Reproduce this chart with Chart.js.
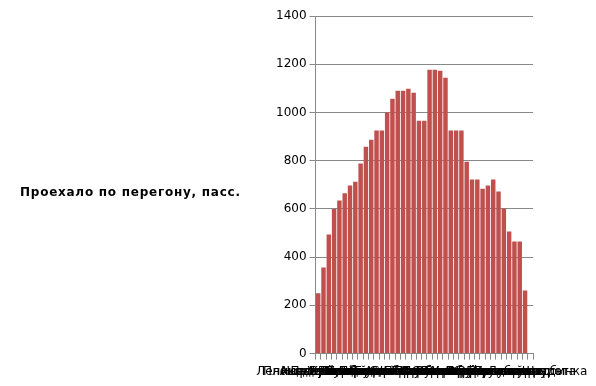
<!DOCTYPE html>
<html>
<head>
<meta charset="utf-8">
<script src="https://cdn.jsdelivr.net/npm/chart.js@4/dist/chart.umd.min.js"></script>
<style>
  html, body { margin: 0; padding: 0; background: #fff; }
  #wrap { position: relative; width: 596px; height: 386px; }
  #ytitle {
    position: absolute; left: 20px; top: 185px;
    font-family: 'DejaVu Sans', sans-serif; font-weight: bold; font-size: 12px;
    letter-spacing: 0.75px; color: #000; white-space: nowrap;
  }
</style>
</head>
<body>
<div id="wrap">
  <canvas id="c" width="596" height="386"></canvas>
  <div id="ytitle">Проехало по перегону, пасс.</div>
</div>
<script>
// Stop names (illegible in the reference; overlapping labels)
const stops = [
  "Ленинская слобода", "Площадь Гагарина", "Академическая", "Профсоюзная",
  "Новые Черёмушки", "Калужская", "Беляево", "Коньково", "Тёплый Стан",
  "Ясенево", "Новоясеневская", "Битцевский парк", "Лесопарковая",
  "Улица Старокачаловская", "Улица Скобелевская", "Бульвар Адмирала Ушакова",
  "Улица Горчакова", "Бунинская аллея", "Потапово", "Коммунарка",
  "Столбово", "Ольховая", "Прокшино", "Филатов луг", "Саларьево",
  "Румянцево", "Тропарёво", "Юго-Западная", "Проспект Вернадского",
  "Университет", "Воробьёвы горы", "Спортивная", "Фрунзенская",
  "Парк культуры", "Кропоткинская", "Боровицкая",
  "Охотный ряд", "Лубянка", "Чистые пруды", "Красные ворота",
  "Бутово-Щербинка"
];
// Passengers carried on each segment (last stop has no outgoing segment)
const passengers = [
  250, 357, 494, 600, 635, 665, 697, 713, 788, 858,
  887, 925, 925, 1000, 1057, 1090, 1090, 1098, 1082, 966,
  966, 1177, 1177, 1173, 1144, 925, 925, 925, 796, 722,
  722, 684, 697, 722, 672, 602, 506, 465, 465, 262,
  null
];
const yTicks = [0, 200, 400, 600, 800, 1000, 1200, 1400];

Chart.defaults.font.family = "'DejaVu Sans', sans-serif";
Chart.defaults.font.size = 12;
Chart.defaults.color = '#000';

new Chart(document.getElementById('c'), {
  type: 'bar',
  data: {
    labels: stops,
    datasets: [{
      label: 'Проехало по перегону, пасс.',
      data: passengers,
      backgroundColor: '#C0504D',
      borderWidth: 0,
      barPercentage: 0.84,
      categoryPercentage: 1.0
    }]
  },
  options: {
    responsive: false,
    animation: false,
    devicePixelRatio: 1,
    layout: { padding: { left: 273, right: 63, top: 16, bottom: 2 } },
    plugins: { legend: { display: false }, tooltip: { enabled: false } },
    scales: {
      x: {
        grid: { display: true, drawOnChartArea: false, color: '#888', tickLength: 6, offset: true },
        border: { color: '#888' },
        ticks: { autoSkip: false, maxRotation: 0, minRotation: 0, color: '#000', padding: 5 }
      },
      y: {
        min: yTicks[0], max: yTicks[yTicks.length - 1],
        afterBuildTicks: (s) => { s.ticks = yTicks.map(v => ({ value: v })); },
        grid: { color: '#888', tickLength: 6 },
        border: { color: '#888' },
        ticks: { color: '#000', padding: 3, callback: (v) => String(v) }
      }
    }
  }
});
</script>
</body>
</html>
